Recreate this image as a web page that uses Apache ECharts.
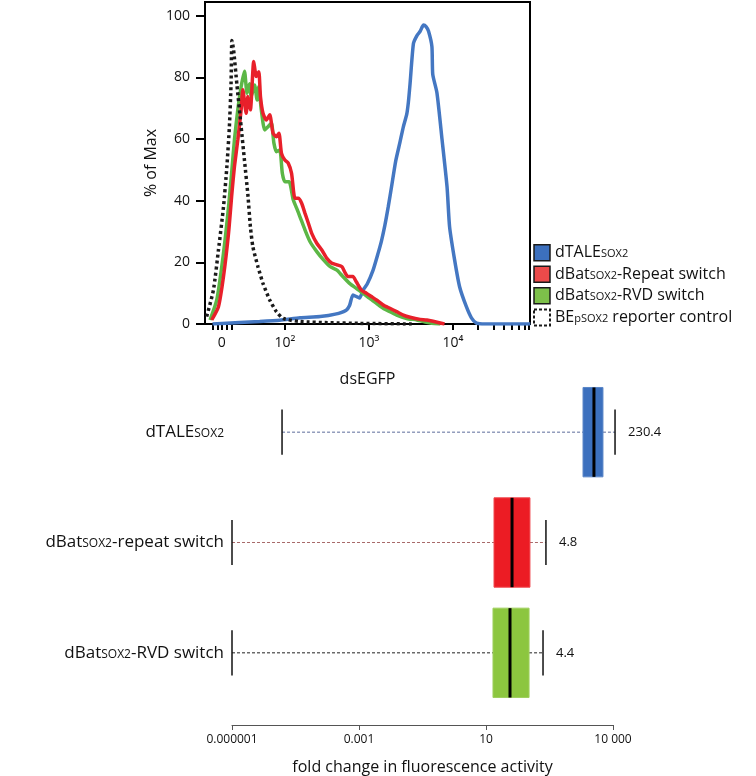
<!DOCTYPE html>
<html><head><meta charset="utf-8">
<script src="https://cdn.jsdelivr.net/npm/echarts@6/dist/echarts.min.js"></script>
<style>html,body{margin:0;padding:0;background:#fff}#c{width:756px;height:776px}</style>
</head><body><div id="c"></div>
<script>
// ---------- top histogram (x in display decades: 10^2 -> 2, 10^3 -> 3 ...; "0" sits at 1.25 on the biexponential scale)
const histXTicks = [1.25, 2, 3, 4];
const histXTickLabels = ['0', '10²', '10³', '10⁴'];
const histXMinorTicks = [1.14, 1.20, 1.31, 1.37, 4.30, 4.48, 4.60, 4.70, 4.78, 4.85, 4.90];
const histYTicks = [0, 20, 40, 60, 80, 100];

const curveDTALE = [[1.14,0],[1.46,0.5],[1.70,0.8],[1.94,1.2],[2.18,2],[2.42,2.4],[2.60,3.2],[2.73,4.5],[2.77,6],[2.81,9.4],[2.86,8.8],[2.89,8.4],[2.93,11],[2.98,13],[3.05,17.5],[3.11,23],[3.15,27],[3.19,32],[3.23,38],[3.27,44.6],[3.32,53],[3.37,59],[3.41,64],[3.45,68],[3.47,72],[3.49,78],[3.53,91],[3.57,93.5],[3.61,95],[3.65,97],[3.68,96.5],[3.71,95],[3.75,90],[3.76,81],[3.81,75],[3.87,60],[3.93,44.5],[3.96,31.6],[4.02,20.8],[4.08,12],[4.16,5.6],[4.22,2],[4.28,0.3],[4.38,0],[4.92,0]];
const curveRVD = [[1.11,1.3],[1.19,7.8],[1.27,23],[1.33,38],[1.37,50],[1.40,59.7],[1.44,69.5],[1.48,77],[1.52,82],[1.55,74.9],[1.58,78],[1.60,73.8],[1.64,77.6],[1.67,72.7],[1.69,77],[1.72,69.5],[1.76,63],[1.80,64],[1.84,65.2],[1.87,58.7],[1.90,55.9],[1.94,56.5],[1.97,48.9],[2.00,46.2],[2.05,46.2],[2.10,40.3],[2.14,37.6],[2.18,34.8],[2.24,30.5],[2.30,26.7],[2.38,23.5],[2.46,20.8],[2.54,18.6],[2.62,17.5],[2.69,15.4],[2.77,13.2],[2.85,11.6],[2.93,10],[3.01,8.3],[3.09,6.7],[3.17,5.1],[3.25,4],[3.33,2.9],[3.45,1.8],[3.57,1.3],[3.73,0.3],[3.85,0]];
const curveRepeat = [[1.13,1.3],[1.21,5.6],[1.27,15.4],[1.33,29.4],[1.37,42.4],[1.40,51],[1.44,59.7],[1.48,69.5],[1.50,76],[1.54,68.4],[1.56,73.8],[1.59,69.5],[1.63,85.2],[1.66,80.3],[1.69,81.9],[1.71,73.8],[1.74,68.4],[1.78,66.2],[1.82,67.9],[1.86,61.9],[1.90,60.8],[1.93,61.9],[1.96,55.4],[2.00,53.2],[2.04,52.2],[2.08,48.9],[2.12,40.8],[2.16,40.8],[2.20,39.2],[2.24,35.9],[2.28,32.7],[2.32,29.4],[2.38,26.2],[2.44,24],[2.50,21.3],[2.56,19.7],[2.62,19.2],[2.68,18.6],[2.71,17],[2.75,15.4],[2.81,15.4],[2.85,13.7],[2.91,11],[2.97,10],[3.03,8.9],[3.09,7.8],[3.17,6.2],[3.25,5.1],[3.33,4],[3.41,2.9],[3.49,2.2],[3.61,1.5],[3.69,1.3],[3.90,0]];
const curveControl = [[1.07,2.4],[1.15,11],[1.21,24],[1.27,38],[1.31,51],[1.34,64],[1.36,78],[1.37,92],[1.39,89],[1.43,77.6],[1.48,64],[1.52,53],[1.56,42],[1.59,31.6],[1.62,25],[1.68,18.6],[1.74,13.2],[1.82,7.8],[1.90,4],[1.98,1.8],[2.18,0.8],[2.54,0.4],[2.89,0.2],[3.52,0]];

const legendNames = ['dTALE', 'repeat', 'RVD', 'control'];
const legendLabels = ['{a|dTALE}{s|SOX2}', '{a|dBat}{s|SOX2}{a|-Repeat switch}', '{a|dBat}{s|SOX2}{a|-RVD switch}', '{a|BE}{s|pSOX2}{a| reporter control}'];

// ---------- bottom box plot (x in axis tick units: 0 -> 0.000001, 1 -> 0.001, 2 -> 10, 3 -> 10 000)
const boxCategories = ['{a|dTALE}{s|SOX2}', '{a|dBat}{s|SOX2}{a|-repeat switch}', '{a|dBat}{s|SOX2}{a|-RVD switch}'];
const boxAxisTicks = [0, 1, 2, 3];
const boxAxisLabels = ['0.000001', '0.001', '10', '10 000'];
const whiskerLow  = [0.394, 0, 0];
const quart1      = [2.764, 2.063, 2.055];
const medians     = [2.850, 2.205, 2.189];
const quart3      = [2.921, 2.346, 2.339];
const whiskerHigh = [3.016, 2.472, 2.449];
const foldLabels  = ['230.4', '4.8', '4.4'];

const FONT = 'Open Sans';
const boxFill = ['#3c70be', '#ec1c24', '#8cc63f'];
const boxStroke = ['#5a86c8', '#f0484e', '#9fcf5e'];
const dashColor = ['#5b6b9a', '#a86a6a', '#222'];

const chart = echarts.init(document.getElementById('c'));
const richText = {
  a: {fontSize: 16, fontFamily: FONT, color: '#111', verticalAlign: 'bottom'},
  s: {fontSize: 11, fontFamily: FONT, color: '#111', verticalAlign: 'bottom', padding: [0, 0, 1, 0]}
};
const richBox = {
  a: {fontSize: 17, fontFamily: FONT, color: '#111', verticalAlign: 'bottom'},
  s: {fontSize: 12, fontFamily: FONT, color: '#111', verticalAlign: 'bottom', padding: [0, 0, 1, 0]}
};

const boxData = boxCategories.map((c, i) => [i, whiskerLow[i], quart1[i], medians[i], quart3[i], whiskerHigh[i]]);

chart.setOption({
  animation: false,
  backgroundColor: '#fff',
  grid: [
    {left: 205, top: 2, width: 325, height: 322, show: true, borderColor: '#000', borderWidth: 2, backgroundColor: 'transparent'},
    {left: 232, top: 377, width: 381, height: 331}
  ],
  legend: {
    orient: 'vertical', left: 533, top: 244, padding: 0, itemWidth: 16, itemHeight: 16, itemGap: 4,
    icon: 'rect',
    data: [
      {name: 'dTALE', itemStyle: {color: '#3c70be', borderColor: '#1a1a1a', borderWidth: 1.5}},
      {name: 'repeat', itemStyle: {color: '#ec4a4a', borderColor: '#1a1a1a', borderWidth: 1.5}},
      {name: 'RVD', itemStyle: {color: '#7dc04a', borderColor: '#1a1a1a', borderWidth: 1.5}},
      {name: 'control', itemStyle: {color: '#fff', borderColor: '#1a1a1a', borderWidth: 2, borderType: [3, 2]}}
    ],
    formatter: n => legendLabels[legendNames.indexOf(n)],
    textStyle: {rich: richText, padding: [0, 0, 0, 0]}
  },
  xAxis: [
    {
      gridIndex: 0, type: 'value', min: 1.05, max: 4.917,
      name: 'dsEGFP', nameLocation: 'middle', nameGap: 47,
      nameTextStyle: {fontFamily: FONT, fontSize: 16, color: '#111'},
      axisLine: {show: true, lineStyle: {color: '#000', width: 2}},
      axisTick: {show: true, customValues: histXTicks.concat(histXMinorTicks), length: 6, lineStyle: {color: '#000', width: 2}},
      axisLabel: {customValues: histXTicks, formatter: v => histXTickLabels[histXTicks.indexOf(v)], fontFamily: FONT, fontSize: 14, color: '#111', margin: 12},
      splitLine: {show: false}
    },
    {
      gridIndex: 1, type: 'value', min: 0, max: 3, interval: 1, offset: 17,
      name: 'fold change in fluorescence activity', nameLocation: 'middle', nameGap: 34,
      nameTextStyle: {fontFamily: FONT, fontSize: 16, color: '#111'},
      axisLine: {show: true, lineStyle: {color: '#555', width: 1}},
      axisTick: {show: true, length: 5, lineStyle: {color: '#555', width: 1}},
      axisLabel: {formatter: v => boxAxisLabels[boxAxisTicks.indexOf(v)], fontFamily: FONT, fontSize: 12, color: '#111', margin: 9},
      splitLine: {show: false}
    }
  ],
  yAxis: [
    {
      gridIndex: 0, type: 'value', min: 0, max: 104.5,
      name: '% of Max', nameLocation: 'middle', nameGap: 46,
      nameTextStyle: {fontFamily: FONT, fontSize: 16, color: '#111'},
      axisLine: {show: true, lineStyle: {color: '#000', width: 2}},
      axisTick: {show: true, customValues: histYTicks, length: 9, lineStyle: {color: '#000', width: 2}},
      axisLabel: {customValues: histYTicks, fontFamily: FONT, fontSize: 14, color: '#111', margin: 15},
      splitLine: {show: false}
    },
    {
      gridIndex: 1, type: 'category', data: boxCategories, inverse: true,
      axisLine: {show: false}, axisTick: {show: false},
      axisLabel: {margin: 8, rich: richBox}
    }
  ],
  series: [
    {name: 'dTALE', type: 'line', xAxisIndex: 0, yAxisIndex: 0, data: curveDTALE, showSymbol: false, smooth: 0.2,
      lineStyle: {color: '#4477c2', width: 3.5}, itemStyle: {color: '#3c70be'}, z: 2},
    {name: 'RVD', type: 'line', xAxisIndex: 0, yAxisIndex: 0, data: curveRVD, showSymbol: false, smooth: 0.2,
      lineStyle: {color: '#5cb746', width: 3.5}, itemStyle: {color: '#7dc04a'}, z: 3},
    {name: 'repeat', type: 'line', xAxisIndex: 0, yAxisIndex: 0, data: curveRepeat, showSymbol: false, smooth: 0.2,
      lineStyle: {color: '#e8202a', width: 3.5}, itemStyle: {color: '#ec4a4a'}, z: 4},
    {name: 'control', type: 'line', xAxisIndex: 0, yAxisIndex: 0, data: curveControl, showSymbol: false, smooth: 0.2,
      lineStyle: {color: '#1a1a1a', width: 3.5, type: [3, 3]}, itemStyle: {color: '#fff'}, z: 5},
    {
      name: 'fold', type: 'custom', xAxisIndex: 1, yAxisIndex: 1, data: boxData,
      encode: {x: [1, 2, 3, 4, 5], y: 0},
      renderItem: (params, api) => {
        const i = params.dataIndex;
        const cat = api.value(0);
        const pLo = api.coord([api.value(1), cat]);
        const pA = api.coord([api.value(2), cat]);
        const pM = api.coord([api.value(3), cat]);
        const pB = api.coord([api.value(4), cat]);
        const pHi = api.coord([api.value(5), cat]);
        const band = api.size([0, 1])[1];
        const boxH = band * 0.81, capH = band * 0.41;
        const y = pLo[1];
        const dash = {stroke: dashColor[i], lineWidth: 1, lineDash: [3, 2]};
        const cap = {stroke: '#111', lineWidth: 1.5};
        return {type: 'group', children: [
          {type: 'line', shape: {x1: pLo[0], y1: y, x2: pA[0], y2: y}, style: dash},
          {type: 'line', shape: {x1: pB[0], y1: y, x2: pHi[0], y2: y}, style: dash},
          {type: 'line', shape: {x1: pLo[0], y1: y - capH / 2, x2: pLo[0], y2: y + capH / 2}, style: cap},
          {type: 'line', shape: {x1: pHi[0], y1: y - capH / 2, x2: pHi[0], y2: y + capH / 2}, style: cap},
          {type: 'rect', shape: {x: pA[0], y: y - boxH / 2, width: pB[0] - pA[0], height: boxH}, style: {fill: boxFill[i], stroke: boxStroke[i], lineWidth: 1}},
          {type: 'line', shape: {x1: pM[0], y1: y - boxH / 2, x2: pM[0], y2: y + boxH / 2}, style: {stroke: '#000', lineWidth: 3}},
          {type: 'text', style: {text: foldLabels[i], x: pHi[0] + 13, y: y, verticalAlign: 'middle', align: 'left', fontSize: 13, fontFamily: FONT, fill: '#111'}}
        ]};
      }
    }
  ]
});
</script></body></html>
